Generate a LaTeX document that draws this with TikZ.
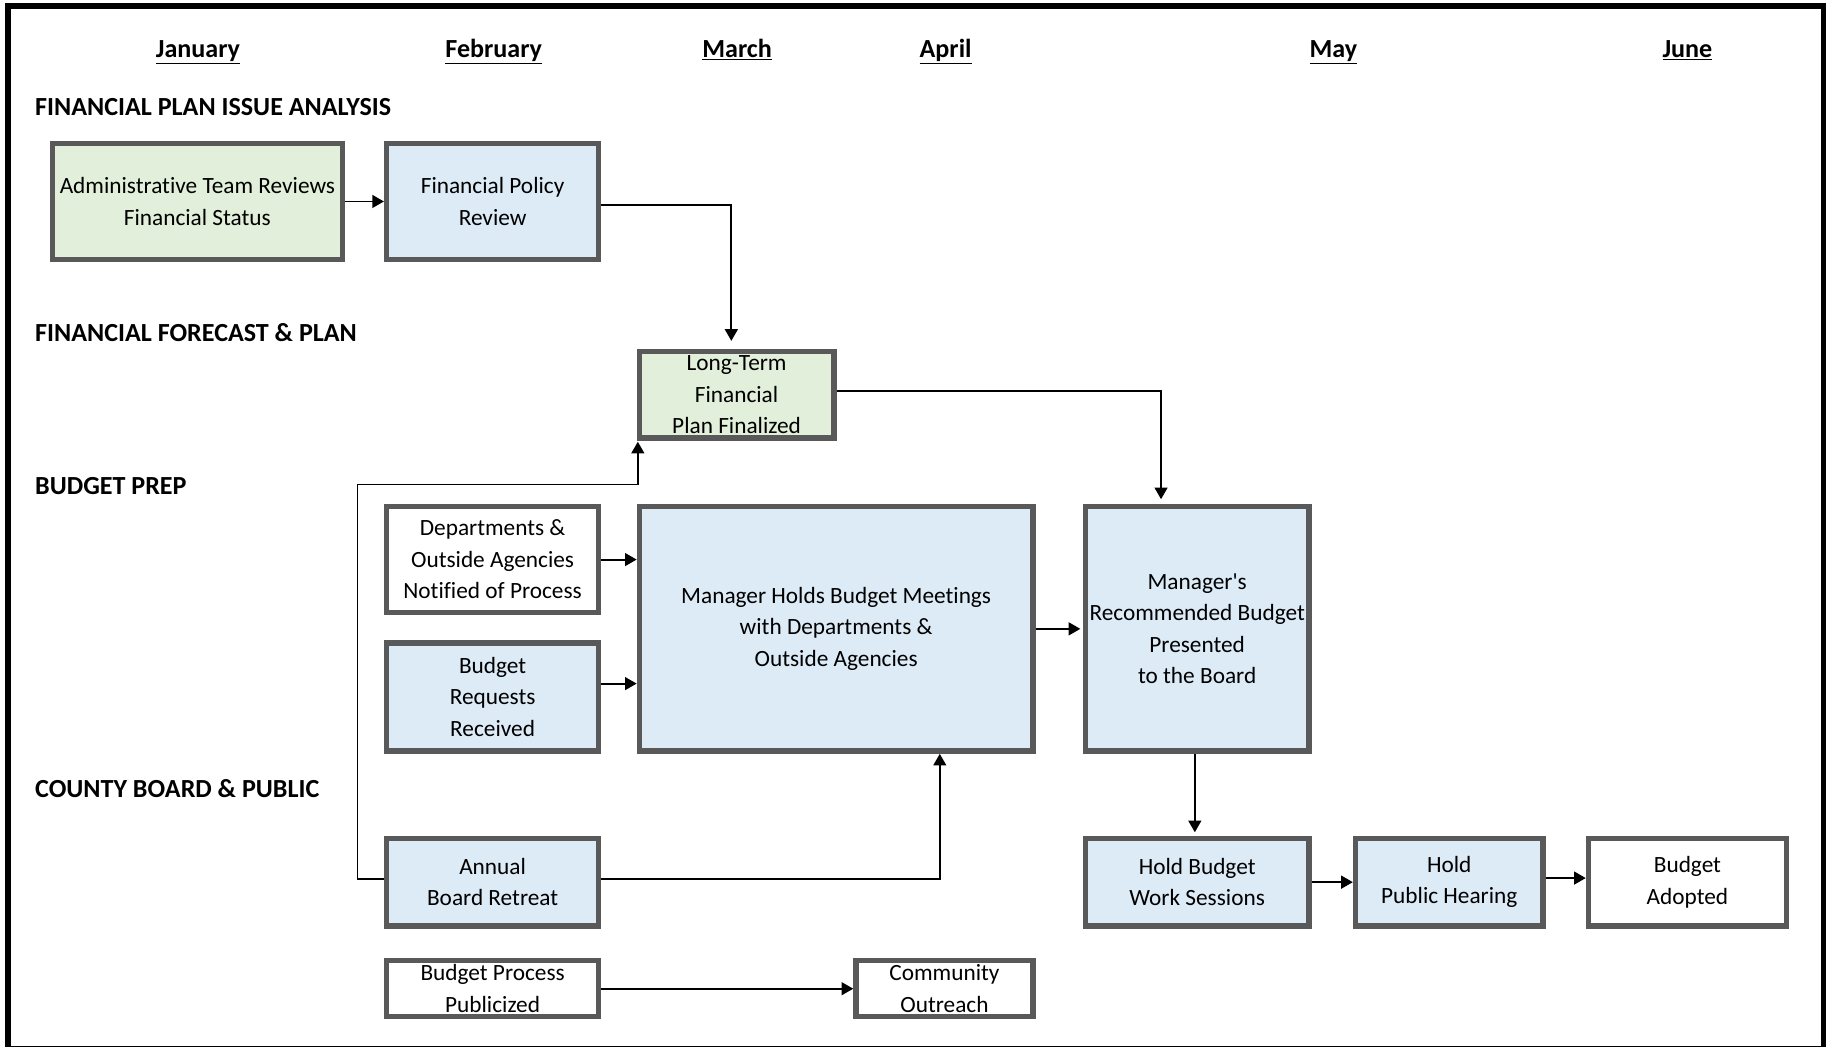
\documentclass[tikz,border=0pt]{standalone}
\usepackage{fontspec}
\setmainfont{Carlito}[Ligatures={TeXOff,CommonOff}]
\usetikzlibrary{arrows.meta}
\definecolor{boxgreen}{HTML}{E2EFDA}
\definecolor{boxblue}{HTML}{DDEBF7}
\definecolor{boxline}{HTML}{595959}
\begin{document}
\begin{tikzpicture}[x=1pt,y=-1pt,
  box/.style={draw=boxline, line width=4.6pt, inner sep=0pt, align=center,
    font=\fontsize{20}{27}\selectfont},
  greenbox/.style={box, fill=boxgreen},
  bluebox/.style={box, fill=boxblue},
  whitebox/.style={box, fill=white},
  month/.style={font=\bfseries\fontsize{22.4}{26}\selectfont, inner sep=0pt, anchor=base},
  section/.style={font=\bfseries\fontsize{22.4}{26}\selectfont, anchor=base west, inner sep=0pt},
  arr/.style={-{Triangle[length=10pt,width=11pt]}, line width=1.6pt}]
\useasboundingbox (0,0) rectangle (1568,899);
\clip (0,0) rectangle (1568,899);

% outer frame
\draw[line width=5.2pt] (6.9,5.1) rectangle (1566,901);

% month headings
\node[month] (jan) at (170,49) {\underline{January}};
\node[month] (feb) at (424,49) {\underline{February}};
\node[month] (mar) at (633,49) {\underline{March}};
\node[month] (apr) at (812,49) {\underline{April}};
\node[month] (may) at (1145,49) {\underline{May}};
\node[month] (jun) at (1449,49) {\underline{June}};

% section headings
\node[section] (s1) at (30,99) {FINANCIAL PLAN ISSUE ANALYSIS};
\node[section] (s2) at (30,293) {FINANCIAL FORECAST \& PLAN};
\node[section] (s3) at (30,425) {BUDGET PREP};
\node[section] (s4) at (30,685) {COUNTY BOARD \& PUBLIC};

% process boxes
\node[greenbox, minimum width=249, minimum height=100] (A) at (169.5,173)
  {Administrative Team Reviews\\Financial Status};
\node[bluebox, minimum width=182, minimum height=100] (B) at (423,173)
  {Financial Policy\\Review};
\node[greenbox, minimum width=167, minimum height=74] (C) at (632.5,339)
  {Long-Term\\Financial\\Plan Finalized};
\node[whitebox, minimum width=182, minimum height=91] (D1) at (423,480.5)
  {Departments \&\\Outside Agencies\\Notified of Process};
\node[bluebox, minimum width=182, minimum height=93] (D2) at (423,598.5)
  {Budget\\Requests\\Received};
\node[bluebox, minimum width=338, minimum height=210] (M) at (718,540)
  {Manager Holds Budget Meetings\\with Departments \&\\Outside Agencies};
\node[bluebox, minimum width=192, minimum height=210] (E) at (1028,540)
  {Manager's\\Recommended Budget\\Presented\\to the Board};
\node[bluebox, minimum width=182, minimum height=75] (F) at (423,757.5)
  {Annual\\Board Retreat};
\node[bluebox, minimum width=192, minimum height=75] (G) at (1028,757.5)
  {Hold Budget\\Work Sessions};
\node[bluebox, minimum width=161, minimum height=75] (H) at (1244.5,757.5)
  {Hold\\Public Hearing};
\node[whitebox, minimum width=170, minimum height=75] (I) at (1449,757.5)
  {Budget\\Adopted};
\node[whitebox, minimum width=182, minimum height=48] (J) at (423,849)
  {Budget Process\\Publicized};
\node[whitebox, minimum width=152, minimum height=48] (K) at (811,849)
  {Community\\Outreach};

% connectors
\coordinate (loop) at (307,416);
\draw[arr] (A.east) -- (B.west);
\draw[arr, shorten >=7pt] ([yshift=-3pt]B.east) -| ([xshift=-4.5pt]C.north);
\draw[arr, shorten >=4pt] ([yshift=3pt]C.east) -| ([xshift=-31pt]E.north);
\draw[arr] (D1.east) -- (D1.east -| M.west);
\draw[arr] ([yshift=11.5pt]D2.east) -- ([yshift=11.5pt]D2.east -| M.west);
\draw[arr, shorten >=2pt] (M.east) -- (E.west);
\draw[arr] ([yshift=2.5pt]F.east) -| ([xshift=89pt]M.south);
\draw[arr, shorten >=1pt] ([yshift=2.5pt]F.west) -| (loop) -| ([xshift=1pt]C.south west);
\draw[arr, shorten >=3pt] ([xshift=-2pt]E.south) -- ([xshift=-2pt]G.north);
\draw[arr] (G.east) -- (G.east -| H.west);
\draw[arr] ([yshift=3.5pt]H.east) -- ([yshift=3.5pt]H.east -| I.west);
\draw[arr] (J.east) -- (J.east -| K.west);
\end{tikzpicture}
\end{document}
